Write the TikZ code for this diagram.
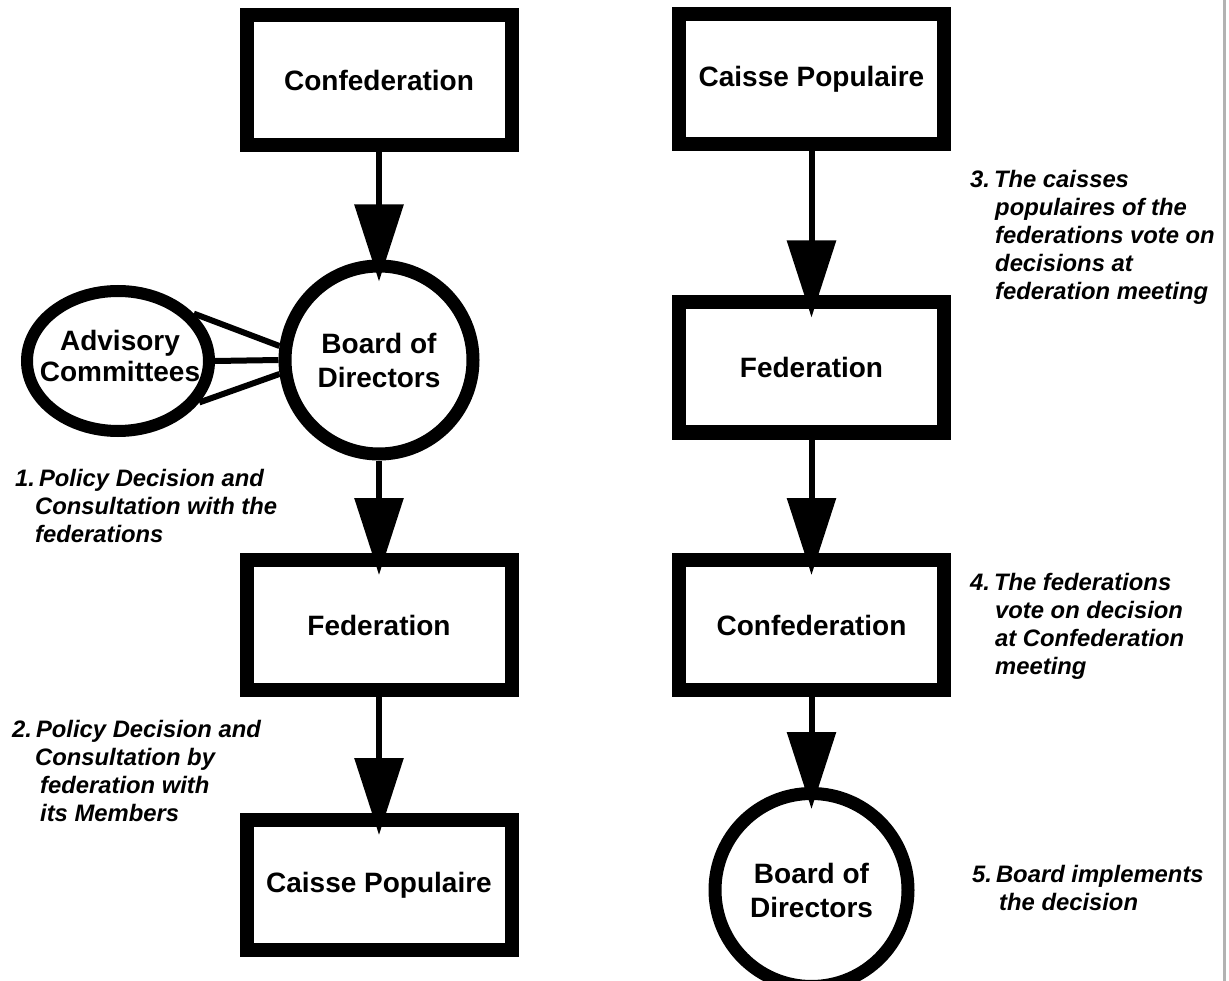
\documentclass[tikz,border=0pt]{standalone}
\usepackage{fontspec}
\setmainfont{Liberation Sans}
\usetikzlibrary{arrows.meta,shapes.geometric}
\begin{document}
\begin{tikzpicture}[x=1pt,y=-1pt,
  boxnode/.style={draw=black,line width=14pt,fill=white,minimum width=265pt,
    minimum height=130pt,inner sep=0pt,font=\fontsize{28}{34}\selectfont\bfseries},
  boardnode/.style={circle,draw=black,line width=13pt,fill=white,inner sep=0pt,
    align=center,font=\fontsize{28}{34}\selectfont\bfseries},
  advnode/.style={ellipse,draw=black,line width=12pt,fill=white,minimum width=182pt,
    minimum height=140pt,inner sep=0pt},
  bigtext/.style={inner sep=0pt,align=center,font=\fontsize{28}{31}\selectfont\bfseries},
  flow/.style={line width=6pt,-{Triangle[width=48pt,length=77pt]},shorten >=-22pt},
  tie/.style={line width=6pt},
  note/.style={anchor=base west,inner sep=0pt,font=\fontsize{23.8}{28}\selectfont\bfseries\itshape}
]
\fill[white] (0,0) rectangle (1229,981);
\useasboundingbox (0,0) rectangle (1229,981);

% left column: decision going down
\node[boxnode] (lconf) at (379,80.5) {Confederation};
\node[boardnode,minimum size=188pt] (lboard) at (379,360) {Board of\\Directors};
\node[boxnode] (lfed) at (379,625) {Federation};
\node[boxnode] (lcaisse) at (379,885) {Caisse Populaire};

\node[advnode] (adv) at (118,361) {};
\node[bigtext] (advtext) at (120,356) {Advisory\\Committees};

\draw[tie] (adv.32) -- (lboard.172);
\draw[tie] (adv.0) -- (lboard.180);
\draw[tie] (adv.-27) -- (lboard.188);

\draw[flow] (lconf.south) -- (lboard.north);
\draw[flow] (lboard.south) -- (lfed.north);
\draw[flow] (lfed.south) -- (lcaisse.north);

% right column: vote going up the network
\node[boxnode] (rcaisse) at (811.5,79.5) {Caisse Populaire};
\node[boxnode] (rfed) at (811.5,367.5) {Federation};
\node[boxnode] (rconf) at (811.5,625) {Confederation};
\node[boardnode,minimum size=193pt] (rboard) at (811.5,890) {Board of\\Directors};

\draw[flow] (rcaisse.south) -- (rfed.north);
\draw[flow] (rfed.south) -- (rconf.north);
\draw[flow] (rconf.south) -- (rboard.north);

% step notes
\node[note] (note1) at (15,486) {\begin{tabular}[t]{@{}l@{}}
1.\hspace{4pt}Policy Decision and\\
\hspace*{20pt}Consultation with the\\
\hspace*{20pt}federations\end{tabular}};
\node[note] (note2) at (12,737) {\begin{tabular}[t]{@{}l@{}}
2.\hspace{4pt}Policy Decision and\\
\hspace*{23pt}Consultation by\\
\hspace*{28pt}federation with\\
\hspace*{28pt}its Members\end{tabular}};
\node[note] (note3) at (970,188) {\begin{tabular}[t]{@{}l@{}}
3.\hspace{4pt}The caisses\\
\hspace*{25pt}populaires of the\\
\hspace*{25pt}federations vote on\\
\hspace*{25pt}decisions at\\
\hspace*{25pt}federation meeting\end{tabular}};
\node[note] (note4) at (970,590) {\begin{tabular}[t]{@{}l@{}}
4.\hspace{4pt}The federations\\
\hspace*{25pt}vote on decision\\
\hspace*{25pt}at Confederation\\
\hspace*{25pt}meeting\end{tabular}};
\node[note] (note5) at (972,882) {\begin{tabular}[t]{@{}l@{}}
5.\hspace{4pt}Board implements\\
\hspace*{27pt}the decision\end{tabular}};

% thin rule along the right edge
\draw[gray!60,line width=2.5pt] (1224.5,0) -- (1224.5,981);
\end{tikzpicture}
\end{document}
